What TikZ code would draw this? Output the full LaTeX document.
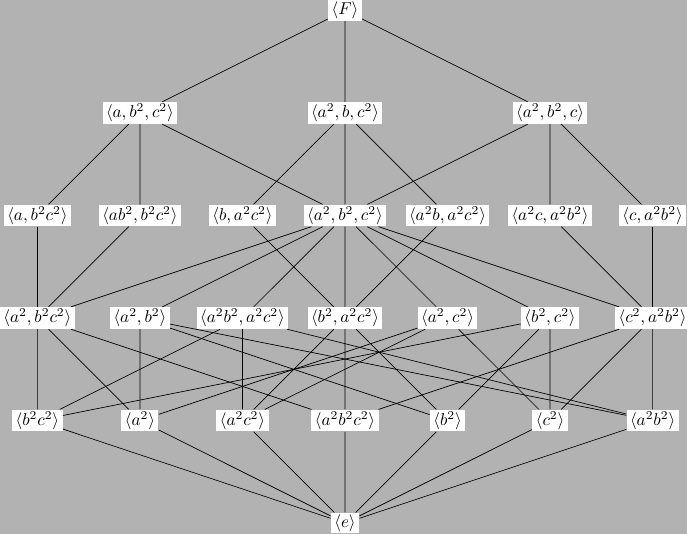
\documentclass[tikz,border=0pt]{standalone}
\usepackage{amsmath}
\usepackage{tikz}
\tikzset{every node/.style={fill=white, inner xsep=2pt, inner ysep=1pt}}

\begin{document}
\begin{tikzpicture}[x=2.1cm, y=2.1cm]
  \fill[black!30] (-0.364, -0.102) rectangle (6.335, 5.102);

  \node at (3, 5) (F) {$\langle F\rangle$};

  \node at (1, 4) (a-B-C) {$\langle a, b^2, c^2\rangle$};
  \node at (3, 4) (A-b-C) {$\langle a^2, b, c^2\rangle$};
  \node at (5, 4) (A-B-c) {$\langle a^2, b^2, c\rangle$};

  \node at (0, 3) (a-BC) {$\langle a, b^2c^2\rangle$};
  \node at (1, 3) (aB-BC) {$\langle ab^2, b^2c^2\rangle$};
  \node at (2, 3) (b-AC) {$\langle b, a^2c^2\rangle$};
  \node at (3, 3) (A-B-C) {$\langle a^2, b^2, c^2\rangle$};
  \node at (4, 3) (Ab-AC) {$\langle a^2b, a^2c^2\rangle$};
  \node at (5, 3) (Ac-AB) {$\langle a^2c, a^2b^2\rangle$};
  \node at (6, 3) (c-AB) {$\langle c, a^2b^2\rangle$};

  \node at (0, 2) (A-BC) {$\langle a^2, b^2c^2\rangle$};
  \node at (1, 2) (A-B) {$\langle a^2, b^2\rangle$};
  \node at (2, 2) (AB-AC) {$\langle a^2b^2, a^2c^2\rangle$};
  \node at (3, 2) (B-AC) {$\langle b^2, a^2c^2\rangle$};
  \node at (4, 2) (A-C) {$\langle a^2, c^2\rangle$};
  \node at (5, 2) (B-C) {$\langle b^2, c^2\rangle$};
  \node at (6, 2) (C-AB) {$\langle c^2, a^2b^2\rangle$};

  \node at (0, 1) (BC) {$\langle b^2c^2\rangle$};
  \node at (1, 1) (A) {$\langle a^2\rangle$};
  \node at (2, 1) (AC) {$\langle a^2c^2\rangle$};
  \node at (3, 1) (ABC) {$\langle a^2b^2c^2\rangle$};
  \node at (4, 1) (B) {$\langle b^2\rangle$};
  \node at (5, 1) (C) {$\langle c^2\rangle$};
  \node at (6, 1) (AB) {$\langle a^2b^2\rangle$};

  \node at (3, 0) (e) {$\langle e\rangle$};

  % top
  \draw (F) -- (a-B-C) (F) -- (A-b-C) (F) -- (A-B-c);

  % index 4
  \draw (a-B-C) -- (a-BC) (a-B-C) -- (aB-BC) (a-B-C) -- (A-B-C);
  \draw (A-b-C) -- (b-AC) (A-b-C) -- (A-B-C) (A-b-C) -- (Ab-AC);
  \draw (A-B-c) -- (A-B-C) (A-B-c) -- (Ac-AB) (A-B-c) -- (c-AB);

  % index 8
  \draw (a-BC) -- (A-BC);
  \draw (aB-BC) -- (A-BC);
  \draw (b-AC) -- (B-AC);
  \draw (A-B-C) -- (A-BC) (A-B-C) -- (A-B) (A-B-C) -- (AB-AC)
        (A-B-C) -- (B-AC) (A-B-C) -- (A-C) (A-B-C) -- (B-C)
        (A-B-C) -- (C-AB);
  \draw (Ab-AC) -- (B-AC);
  \draw (Ac-AB) -- (C-AB);
  \draw (c-AB) -- (C-AB);

  % index 16
  \draw (A-BC) -- (BC) (A-BC) -- (A) (A-BC) -- (ABC);
  \draw (A-B) -- (A) (A-B) -- (B) (A-B) -- (AB);
  \draw (AB-AC) -- (BC) (AB-AC) -- (AC) (AB-AC) -- (AB);
  \draw (B-AC) -- (AC) (B-AC) -- (ABC) (B-AC) -- (B);
  \draw (A-C) -- (A) (A-C) -- (AC) (A-C) -- (C);
  \draw (B-C) -- (BC) (B-C) -- (B) (B-C) -- (C);
  \draw (C-AB) -- (C) (C-AB) -- (AB) (C-AB) -- (ABC);

  % bottom
  \draw (BC) -- (e) (A) -- (e) (AC) -- (e) (ABC) -- (e)
        (B) -- (e) (C) -- (e) (AB) -- (e);
\end{tikzpicture}
\end{document}
